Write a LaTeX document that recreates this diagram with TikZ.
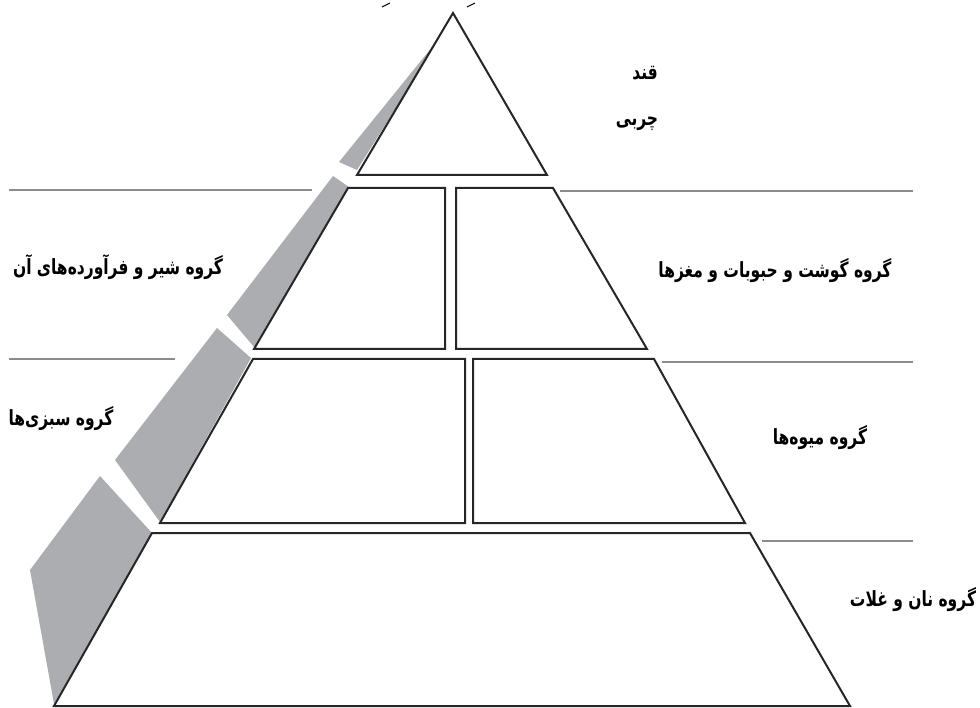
\documentclass[tikz,border=0pt]{standalone}
\usepackage{fontspec}
\newfontfamily\arabicfont[Script=Arabic]{DejaVu Sans}
\TeXXeTstate=1
\definecolor{shadegray}{RGB}{172,173,177}
\definecolor{guidegray}{RGB}{140,140,140}
\newcommand{\fatxt}[1]{\scalebox{1}[1.35]{\beginR #1\endR}}
\begin{document}
\begin{tikzpicture}[x=1pt,y=-1pt,
  tier/.style={draw=black!85, line width=2pt, fill=white, line join=miter},
  shade/.style={fill=shadegray, draw=none},
  guide/.style={draw=guidegray, line width=1.3pt},
  lbl/.style={font=\arabicfont\bfseries\fontsize{15.5}{18}\selectfont, inner sep=0pt}]
\useasboundingbox (0,0) rectangle (980,708);
% guide lines
\draw[guide] (9,190) -- (312,190);
\draw[guide] (560,191) -- (913,191);
\draw[guide] (9,359) -- (175,359);
\draw[guide] (662,362) -- (913,362);
\draw[guide] (762,541) -- (913,541);
% small marks at top
\draw[black, line width=1pt] (382,7) -- (390,3);
\draw[black, line width=1pt] (467,7) -- (475,3);
% gray side band
\fill[shade] (441,36) -- (357,170) -- (339,162) -- cycle;
\fill[shade] (333,176) -- (349,187) -- (254,347) -- (227,315) -- cycle;
\fill[shade] (217,328) -- (251,358) -- (160,522) -- (115,460) -- cycle;
\fill[shade] (100,476) -- (152,533) -- (54,704) -- (30,570) -- cycle;
% tiers
\draw[tier] (453,13) -- (547,175) -- (357,175) -- cycle;
\draw[tier] (348,188) -- (445,188) -- (445,349) -- (254,349) -- cycle;
\draw[tier] (456,188) -- (553,188) -- (647,349) -- (456,349) -- cycle;
\draw[tier] (253,359) -- (465,359) -- (465,523) -- (160,523) -- cycle;
\draw[tier] (473,359) -- (654,359) -- (745,523) -- (473,523) -- cycle;
\draw[tier] (152,533) -- (750,533) -- (850,706) -- (54,706) -- cycle;
% labels
\node[lbl] (qand) at (645,73) {\fatxt{قند}};
\node[lbl] (charbi) at (637,124) {\fatxt{چربی}};
\node[lbl] (shir) at (118,267) {\fatxt{گروه شیر و فرآورده‌های آن}};
\node[lbl] (gusht) at (775,271) {\fatxt{گروه گوشت و حبوبات و مغزها}};
\node[lbl] (sabzi) at (61,419) {\fatxt{گروه سبزی‌ها}};
\node[lbl] (miveh) at (820,438) {\fatxt{گروه میوه‌ها}};
\node[lbl] (nan) at (913,600) {\fatxt{گروه نان و غلات}};
\end{tikzpicture}
\end{document}
